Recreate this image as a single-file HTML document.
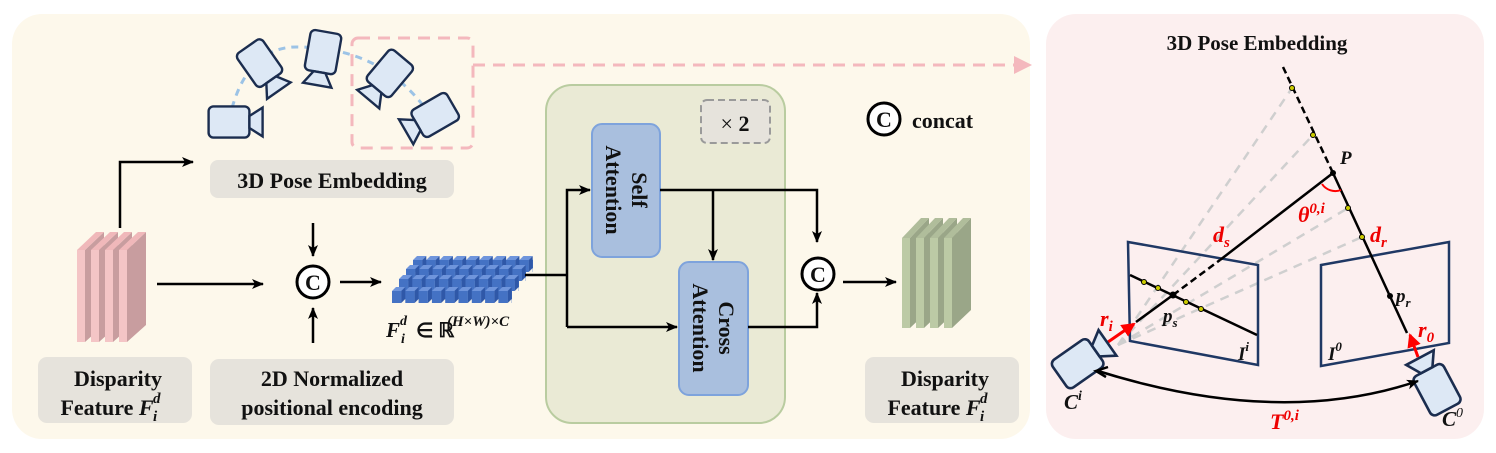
<!DOCTYPE html>
<html><head><meta charset="utf-8"><style>
html,body{margin:0;padding:0;background:#fff}
svg{display:block}
text{font-family:"Liberation Serif",serif;font-weight:bold;fill:#111}
</style></head><body>
<svg width="1496" height="453" viewBox="0 0 1496 453" xmlns="http://www.w3.org/2000/svg">
<defs>
<marker id="ahs" markerWidth="12" markerHeight="12" refX="11" refY="6" orient="auto" markerUnits="userSpaceOnUse"><path d="M0,1 L12,6 L0,11 L3,6 z" fill="#000"/></marker>
<marker id="ahr" markerWidth="14" markerHeight="14" refX="12" refY="7" orient="auto" markerUnits="userSpaceOnUse"><path d="M0,0 L14,7 L0,14 z" fill="#f00"/></marker>
<marker id="ahp" markerWidth="18" markerHeight="18" refX="16" refY="9" orient="auto" markerUnits="userSpaceOnUse"><path d="M0,0 L18,9 L0,18 z" fill="#f4b8bd"/></marker>
<pattern id="cube" width="13.3" height="16" patternUnits="userSpaceOnUse">
<path d="M0,4 L4,0 L13.3,0 L9.3,4 z" fill="#6f95dc"/>
<path d="M9.3,4 L13.3,0 L13.3,12 L9.3,16 z" fill="#2f58a8"/>
<rect x="0" y="4" width="9.3" height="12" fill="#4472c4"/>
</pattern>
<g id="cam">
<rect x="-22" y="-13" width="34" height="26" rx="4" fill="#dde8f5" stroke="#1b2d4f" stroke-width="2"/>
<path d="M12,-5 L23,-12 L23,12 L12,5 z" fill="#dde8f5" stroke="#1b2d4f" stroke-width="2"/>
</g>
</defs>

<rect x="12" y="14" width="1018" height="425" rx="30" fill="#fdf8eb"/>
<rect x="1046" y="14" width="438" height="425" rx="30" fill="#fcefef"/>

<path d="M232,108 Q250,45 300,47 Q380,48 425,108" fill="none" stroke="#9cc3e6" stroke-width="3" stroke-dasharray="7,6"/>
<use href="#cam" transform="translate(235,122) scale(1.2)"/>
<use href="#cam" transform="translate(263,68) rotate(55) scale(1.2)"/>
<use href="#cam" transform="translate(322,58) rotate(100) scale(1.2)"/>
<use href="#cam" transform="translate(386,78) rotate(130) scale(1.2)"/>
<use href="#cam" transform="translate(430,118) rotate(150) scale(1.2)"/>
<rect x="352" y="38" width="121" height="110" rx="6" fill="none" stroke="#f4b8bd" stroke-width="3" stroke-dasharray="12,8"/>
<path d="M473,65 L1030,65" stroke="#f4b8bd" stroke-width="3" stroke-dasharray="12,8" marker-end="url(#ahp)"/>

<path d="M120,228 L120,162 L193,162" fill="none" stroke="#000" stroke-width="2.5" marker-end="url(#ahs)"/>
<rect x="210" y="160" width="244" height="38" rx="8" fill="#e6e3dc"/>
<text x="332" y="188" font-size="22" text-anchor="middle">3D Pose Embedding</text>

<g>
<g id="pslab"><path d="M85,250 L104,232 L104,325 L85,342 z" fill="#c89d9f"/><path d="M77,250 L96,232 L104,232 L85,250 z" fill="#f0b8ba"/><rect x="77" y="250" width="8" height="92" fill="#f4c5c6"/></g>
<use href="#pslab" x="14"/><use href="#pslab" x="28"/><use href="#pslab" x="42"/>
</g>
<path d="M157,284 L263,284" stroke="#000" stroke-width="2.5" marker-end="url(#ahs)"/>
<circle cx="313" cy="282" r="16" fill="#fff" stroke="#000" stroke-width="3"/>
<text x="313" y="290" font-size="22" text-anchor="middle">C</text>
<path d="M313,223 L313,256" stroke="#000" stroke-width="2.5" marker-end="url(#ahs)"/>
<path d="M313,343 L313,308" stroke="#000" stroke-width="2.5" marker-end="url(#ahs)"/>
<path d="M340,282 L381,282" stroke="#000" stroke-width="2.5" marker-end="url(#ahs)"/>

<g transform="translate(413,256)"><rect width="120" height="16" fill="url(#cube)"/></g>
<g transform="translate(406,265)"><rect width="120" height="16" fill="url(#cube)"/></g>
<g transform="translate(399,275)"><rect width="120" height="16" fill="url(#cube)"/></g>
<g transform="translate(392,287)"><rect width="120" height="16" fill="url(#cube)"/></g>
<text x="386" y="337" font-size="21" font-style="italic">F</text>
<text x="400" y="325" font-size="14" font-style="italic">d</text>
<text x="401" y="343" font-size="14" font-style="italic">i</text>
<text x="416" y="337" font-size="20" font-weight="normal">∈ ℝ</text>
<text x="447" y="326" font-size="15" font-style="italic">(H×W)×C</text>

<rect x="38" y="357" width="154" height="66" rx="9" fill="#e6e3dc"/>
<text x="118" y="386" font-size="22" text-anchor="middle">Disparity</text>
<text x="107" y="415" font-size="22" text-anchor="middle">Feature <tspan font-style="italic">F</tspan></text>
<text x="153" y="403" font-size="15" font-style="italic">d</text>
<text x="153" y="421" font-size="15" font-style="italic">i</text>
<rect x="210" y="359" width="244" height="66" rx="9" fill="#e6e3dc"/>
<text x="332" y="386" font-size="22" text-anchor="middle">2D Normalized</text>
<text x="332" y="415" font-size="22" text-anchor="middle">positional encoding</text>

<rect x="546" y="85" width="239" height="338" rx="26" fill="#eaead5" stroke="#b9cca0" stroke-width="2"/>
<rect x="701" y="100" width="69" height="43" rx="6" fill="#e6e3dc" stroke="#9a9a9a" stroke-width="2" stroke-dasharray="7,4"/>
<text x="735" y="131" font-size="22" text-anchor="middle"><tspan font-weight="normal">×</tspan> 2</text>
<rect x="592" y="124" width="68" height="133" rx="10" fill="#a9bfde" stroke="#7ea3dc" stroke-width="2"/>
<text transform="translate(626,190) rotate(90)" font-size="22" text-anchor="middle"><tspan x="0" dy="-6">Self</tspan><tspan x="0" dy="26">Attention</tspan></text>
<rect x="679" y="262" width="69" height="133" rx="10" fill="#a9bfde" stroke="#7ea3dc" stroke-width="2"/>
<text transform="translate(713,328) rotate(90)" font-size="22" text-anchor="middle"><tspan x="0" dy="-6">Cross</tspan><tspan x="0" dy="26">Attention</tspan></text>

<path d="M525,275 L567,275" stroke="#000" stroke-width="2.5"/>
<path d="M567,327 L567,190 L590,190" fill="none" stroke="#000" stroke-width="2.5" marker-end="url(#ahs)"/>
<path d="M567,327 L677,327" stroke="#000" stroke-width="2.5" marker-end="url(#ahs)"/>
<path d="M660,190 L817,190 L817,242" fill="none" stroke="#000" stroke-width="2.5" marker-end="url(#ahs)"/>
<path d="M713,190 L713,260" stroke="#000" stroke-width="2.5" marker-end="url(#ahs)"/>
<path d="M748,327 L817,327 L817,293" fill="none" stroke="#000" stroke-width="2.5" marker-end="url(#ahs)"/>
<circle cx="818" cy="274" r="16" fill="#fff" stroke="#000" stroke-width="3"/>
<text x="818" y="282" font-size="22" text-anchor="middle">C</text>
<path d="M843,282 L896,282" stroke="#000" stroke-width="2.5" marker-end="url(#ahs)"/>

<g id="gslab"><path d="M910,238 L929,218 L929,310 L910,328 z" fill="#9aa688"/><path d="M902,238 L921,218 L929,218 L910,238 z" fill="#b0bd9b"/><rect x="902" y="238" width="8" height="90" fill="#bccaa5"/></g>
<use href="#gslab" x="14"/><use href="#gslab" x="28"/><use href="#gslab" x="42"/>

<rect x="865" y="357" width="154" height="66" rx="9" fill="#e6e3dc"/>
<text x="945" y="386" font-size="22" text-anchor="middle">Disparity</text>
<text x="934" y="415" font-size="22" text-anchor="middle">Feature <tspan font-style="italic">F</tspan></text>
<text x="980" y="403" font-size="15" font-style="italic">d</text>
<text x="980" y="421" font-size="15" font-style="italic">i</text>

<circle cx="884" cy="119" r="16" fill="#fff" stroke="#000" stroke-width="3"/>
<text x="884" y="127" font-size="22" text-anchor="middle">C</text>
<text x="912" y="128" font-size="22">concat</text>

<text x="1257" y="50" font-size="21" text-anchor="middle">3D Pose Embedding</text>
<g stroke="#cfcfcf" stroke-width="2.5" stroke-dasharray="9,7" fill="none">
<path d="M1118,345 L1292,88"/>
<path d="M1118,345 L1313,135"/>
<path d="M1118,345 L1348,208"/>
<path d="M1118,345 L1362,237"/>
</g>
<path d="M1128,242 L1258,265 L1258,365 L1130,341 z" fill="none" stroke="#1f3864" stroke-width="2.5"/>
<path d="M1321,265 L1449,242 L1449,343 L1321,366 z" fill="none" stroke="#1f3864" stroke-width="2.5"/>
<path d="M1130,275 L1257,335" stroke="#000" stroke-width="2.5"/>
<path d="M1283,67 L1333,173" stroke="#000" stroke-width="2.5" stroke-dasharray="7,4"/>
<path d="M1333,173 L1407,333" stroke="#000" stroke-width="2.5"/>
<path d="M1136,322 L1173,295" stroke="#000" stroke-width="2.5"/>
<path d="M1173,295 L1220,260" stroke="#000" stroke-width="2.5" stroke-dasharray="7,4"/>
<path d="M1220,260 L1333,173" stroke="#000" stroke-width="2.5"/>
<path d="M1322,184 A16,16 0 0 0 1341,190" fill="none" stroke="#f00" stroke-width="2"/>
<circle cx="1333" cy="173" r="3" fill="#000"/>
<circle cx="1173" cy="295" r="3.5" fill="#000"/>
<circle cx="1390" cy="296" r="3" fill="#000"/>
<g fill="#cc0" stroke="#000" stroke-width="1">
<circle cx="1292" cy="88" r="2.5"/><circle cx="1313" cy="135" r="2.5"/><circle cx="1348" cy="208" r="2.5"/><circle cx="1362" cy="237" r="2.5"/>
<circle cx="1144" cy="282" r="2.5"/><circle cx="1158" cy="288" r="2.5"/><circle cx="1186" cy="302" r="2.5"/><circle cx="1201" cy="309" r="2.5"/>
</g>
<path d="M1108,342 L1134,324" stroke="#f00" stroke-width="3" marker-end="url(#ahr)"/>
<path d="M1418,357 L1410,335" stroke="#f00" stroke-width="3" marker-end="url(#ahr)"/>
<use href="#cam" transform="translate(1083,360) rotate(-35) scale(1.3)"/>
<use href="#cam" transform="translate(1434,384) rotate(-118) scale(1.3)"/>
<path d="M1098,371 Q1280,428 1418,381" fill="none" stroke="#000" stroke-width="2.5" marker-end="url(#ahs)"/>
<path d="M1108,367 L1096,371 L1106,377" fill="none" stroke="#000" stroke-width="2.5"/>
<text x="1340" y="164" font-size="19" font-style="italic" font-weight="normal">P</text>
<text x="1298" y="222" font-size="22" font-style="italic" style="fill:#e00">θ<tspan font-size="15" dy="-9">0,i</tspan></text>
<text x="1213" y="242" font-size="22" font-style="italic" style="fill:#e00">d<tspan font-size="15" dy="5">s</tspan></text>
<text x="1370" y="242" font-size="22" font-style="italic" style="fill:#e00">d<tspan font-size="15" dy="5">r</tspan></text>
<text x="1100" y="326" font-size="22" font-style="italic" style="fill:#e00">r<tspan font-size="15" dy="5">i</tspan></text>
<text x="1418" y="337" font-size="22" font-style="italic" style="fill:#e00">r<tspan font-size="15" dy="5">0</tspan></text>
<text x="1163" y="322" font-size="19" font-style="italic" font-weight="normal">p<tspan font-size="13" dy="5">s</tspan></text>
<text x="1396" y="302" font-size="19" font-style="italic" font-weight="normal">p<tspan font-size="13" dy="5" font-weight="bold">r</tspan></text>
<text x="1238" y="360" font-size="19" font-style="italic" font-weight="normal">I<tspan font-size="13" dy="-9">i</tspan></text>
<text x="1328" y="360" font-size="19" font-style="italic" font-weight="normal">I<tspan font-size="13" dy="-9">0</tspan></text>
<text x="1064" y="409" font-size="21" font-style="italic">C<tspan font-size="14" dy="-9">i</tspan></text>
<text x="1442" y="426" font-size="21" font-style="italic">C<tspan font-size="14" dy="-9" font-weight="normal">0</tspan></text>
<text x="1270" y="429" font-size="22" font-style="italic" style="fill:#e00">T<tspan font-size="15" dy="-9">0,i</tspan></text>
</svg>
</body></html>
